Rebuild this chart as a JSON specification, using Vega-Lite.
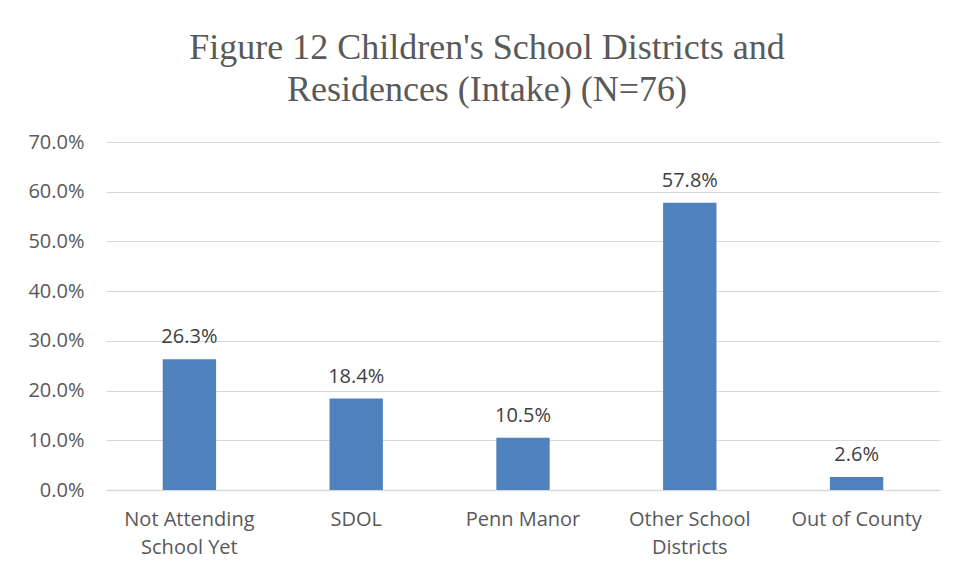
{
  "$schema": "https://vega.github.io/schema/vega-lite/v6.json",
  "width": 834,
  "height": 348,
  "autosize": {"type": "none"},
  "padding": {"left": 106, "top": 142, "right": 14, "bottom": 88},
  "background": "white",
  "title": {
    "text": ["Figure 12 Children's School Districts and", "Residences (Intake) (N=76)"],
    "font": "Liberation Serif",
    "fontSize": 36,
    "fontWeight": "normal",
    "color": "#595959",
    "anchor": "middle",
    "frame": "group",
    "dx": -36,
    "offset": 23,
    "lineHeight": 42
  },
  "data": {
    "values": [
      {"category": "Not Attending School Yet", "pct": 0.263},
      {"category": "SDOL", "pct": 0.184},
      {"category": "Penn Manor", "pct": 0.105},
      {"category": "Other School Districts", "pct": 0.578},
      {"category": "Out of County", "pct": 0.026}
    ]
  },
  "encoding": {
    "x": {
      "field": "category",
      "type": "nominal",
      "sort": null,
      "scale": {"paddingInner": 0.68, "paddingOuter": 0.34},
      "axis": {
        "title": null,
        "labelAngle": 0,
        "labelFont": "Open Sans",
        "labelFontSize": 20,
        "labelColor": "#595959",
        "labelPadding": 19,
        "labelLineHeight": 28,
        "ticks": false,
        "domainColor": "#d9d9d9",
        "domainWidth": 1.5,
        "labelExpr": "datum.value == 'Not Attending School Yet' ? ['Not Attending', 'School Yet'] : datum.value == 'Other School Districts' ? ['Other School', 'Districts'] : datum.value"
      }
    },
    "y": {
      "field": "pct",
      "type": "quantitative",
      "scale": {"domain": [0, 0.7]},
      "axis": {
        "title": null,
        "format": ".1%",
        "values": [0, 0.1, 0.2, 0.3, 0.4, 0.5, 0.6, 0.7],
        "labelFont": "Open Sans",
        "labelFontSize": 20,
        "labelColor": "#595959",
        "labelPadding": 22,
        "ticks": false,
        "domain": false,
        "gridColor": "#d9d9d9",
        "gridWidth": 1.2
      }
    }
  },
  "layer": [
    {"mark": {"type": "bar", "color": "#4F81BD"}},
    {
      "mark": {"type": "text", "baseline": "bottom", "dy": -12, "font": "Open Sans", "fontSize": 20, "color": "#404040"},
      "encoding": {"text": {"field": "pct", "type": "quantitative", "format": ".1%"}}
    }
  ],
  "config": {"view": {"stroke": null}}
}
